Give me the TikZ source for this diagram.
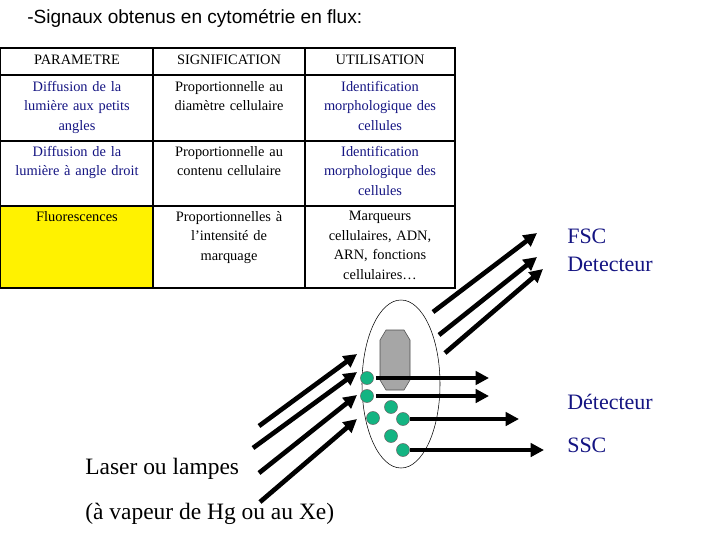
\documentclass[tikz,border=0pt]{standalone}
\usepackage{fontspec}
\setmainfont{Liberation Serif}
\setsansfont{Liberation Sans}
\usetikzlibrary{arrows.meta,shapes.geometric}
\definecolor{nv}{RGB}{20,20,130}
\definecolor{grn}{RGB}{20,180,130}
\begin{document}
\begin{tikzpicture}[x=0.75pt,y=-0.75pt,
 cell/.style={font=\fontsize{10.8}{14.6}\selectfont,align=center,anchor=north,text width=145*0.75pt,inner sep=0pt},
 beam/.style={line width=3.5pt,-{Triangle[length=10pt,width=10pt]}},
 dot/.style={circle,fill=grn,draw=black!60,minimum size=13*0.75pt,inner sep=0pt},
 big/.style={font=\fontsize{16.5}{18}\selectfont,anchor=west,inner sep=0pt}]
\useasboundingbox (0,0) rectangle (720,540);
\node[anchor=west,font=\sffamily\fontsize{14.3}{16}\selectfont,inner sep=0pt] (title) at (27,18) {-Signaux obtenus en cytométrie en flux:};
% table
\fill[yellow] (0,206) rectangle (153,288);
\draw[line width=1.5pt] (0,48) rectangle (455,288);
\foreach \y in {75,141,206} \draw[line width=1.2pt] (0,\y) -- (455,\y);
\foreach \x in {153,305} \draw[line width=1.2pt] (\x,48) -- (\x,288);
\node[cell] (h1) at (77,55) {PARAMETRE};
\node[cell] (h2) at (229,55) {SIGNIFICATION};
\node[cell] (h3) at (380,55) {UTILISATION};
\node[cell,text=nv] (a1) at (77,81) {Diffusion de la\\lumière aux petits\\angles};
\node[cell] (a2) at (229,81) {Proportionnelle au\\diamètre cellulaire};
\node[cell,text=nv] (a3) at (380,81) {Identification\\morphologique des\\cellules};
\node[cell,text=nv] (b1) at (77,146) {Diffusion de la\\lumière à angle droit};
\node[cell] (b2) at (229,146) {Proportionnelle au\\contenu cellulaire};
\node[cell,text=nv] (b3) at (380,146) {Identification\\morphologique des\\cellules};
\node[cell] (c1) at (77,211) {Fluorescences};
\node[cell] (c2) at (229,211) {Proportionnelles à\\l’intensité de\\marquage};
\node[cell] (c3) at (380,211) {Marqueurs\\cellulaires, ADN,\\ARN, fonctions\\cellulaires…};
% flow cell
\node[draw,ellipse,minimum width=78*0.75pt,minimum height=168*0.75pt,inner sep=0pt] (ell) at (401,384) {};
\fill[gray!70,draw=black!70] (386,330) -- (404,330) -- (410,340) -- (410,380) -- (404,390) -- (386,390) -- (380,380) -- (380,340) -- cycle;
\foreach \p/\n in {{(367,378)}/d1,{(367,396)}/d2,{(391,407)}/d3,{(373,418)}/d4,{(403,419)}/d5,{(391,436)}/d6,{(403,450)}/d7}
  \node[dot] (\n) at \p {};
% incoming
\coordinate (i1s) at (259,426); \coordinate (i1e) at (357,354);
\coordinate (i2s) at (253,448); \coordinate (i2e) at (357,372);
\coordinate (i3s) at (259,473); \coordinate (i3e) at (357,395);
\coordinate (i4s) at (260,502); \coordinate (i4e) at (357,419);
\foreach \i in {1,...,4} \draw[beam] (i\i s) -- (i\i e);
% outgoing FSC
\coordinate (o1s) at (433,312); \coordinate (o1e) at (537,233);
\coordinate (o2s) at (439,335); \coordinate (o2e) at (537,257);
\coordinate (o3s) at (445,353); \coordinate (o3e) at (543,269);
\foreach \i in {1,2,3} \draw[beam] (o\i s) -- (o\i e);
% side arrows
\coordinate (r1) at (489,378); \coordinate (r2) at (489,396);
\coordinate (r3) at (519,419); \coordinate (r4) at (544,450);
\draw[beam] (d1.east) ++(2,0) -- (r1);
\draw[beam] (d2.east) ++(2,0) -- (r2);
\draw[beam] (d5.east) -- (r3);
\draw[beam] (d7.east) -- (r4);
% labels
\node[big,text=nv] (fsc) at (567,236) {FSC};
\node[big,text=nv] (fdet) at (567,264) {Detecteur};
\node[big,text=nv] (sdet) at (567,402) {Détecteur};
\node[big,text=nv] (ssc) at (567,445) {SSC};
\node[big,font=\fontsize{17.6}{19}\selectfont] (laser) at (85,469) {Laser ou lampes};
\node[big,font=\fontsize{17.6}{19}\selectfont] (vap) at (85,514) {(à vapeur de Hg ou au Xe)};
\end{tikzpicture}
\end{document}
